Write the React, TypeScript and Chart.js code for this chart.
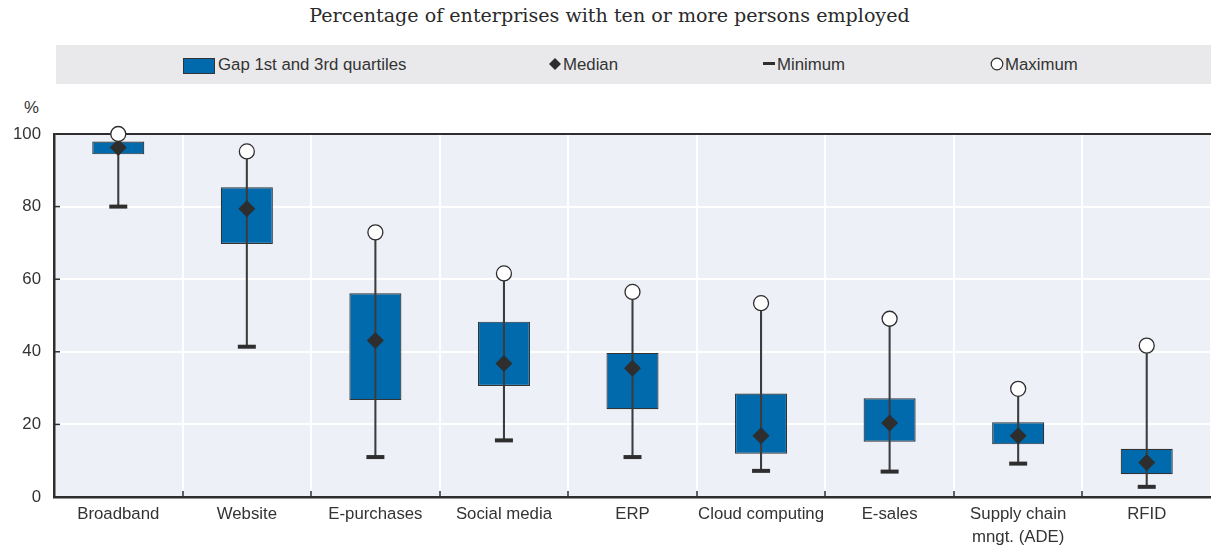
import React, { useEffect, useRef } from "react";
import { Chart, registerables } from "chart.js";

Chart.register(...registerables);

const categories: (string | string[])[] = [
  "Broadband",
  "Website",
  "E-purchases",
  "Social media",
  "ERP",
  "Cloud computing",
  "E-sales",
  ["Supply chain", "mngt. (ADE)"],
  "RFID",
];
const quartile1 = [94.4, 69.7, 26.7, 30.6, 24.2, 11.9, 15.2, 14.5, 6.3];
const quartile3 = [97.9, 85.3, 56.1, 48.3, 39.7, 28.5, 27.2, 20.6, 13.3];
const medians = [96.3, 79.4, 43.1, 36.8, 35.5, 16.9, 20.4, 16.9, 9.5];
const minimums = [80, 41.4, 11, 15.6, 11, 7.2, 7, 9.2, 2.8];
const maximums = [100, 95.2, 72.9, 61.6, 56.5, 53.4, 49.1, 29.8, 41.7];
const yTickValues = [0, 20, 40, 60, 80, 100];

const TITLE = "Percentage of enterprises with ten or more persons employed";
const SANS = '"Liberation Sans", Arial, sans-serif';
const FONT_SIZE = 16.8;
const BLUE = "#006AAD";
const DARK = "#2E2E2E";
const PLOT_BG = "#EDF0F7";

const bgPlugin = {
  id: "plotBg",
  beforeDraw(chart: any) {
    const { ctx, chartArea } = chart;
    ctx.save();
    ctx.fillStyle = PLOT_BG;
    ctx.fillRect(chartArea.left, chartArea.top, chartArea.right - chartArea.left, chartArea.bottom - chartArea.top);
    ctx.restore();
  },
  beforeDatasetsDraw(chart: any) {
    const { ctx, chartArea, scales } = chart;
    const x = scales.x;
    const y = scales.y;
    ctx.save();
    ctx.strokeStyle = DARK;
    ctx.lineWidth = 1.5;
    yTickValues.forEach((v) => {
      const py = y.getPixelForValue(v);
      ctx.beginPath();
      ctx.moveTo(chartArea.left, py);
      ctx.lineTo(chartArea.left + 6, py);
      ctx.stroke();
    });
    const n = categories.length;
    for (let i = 1; i < n; i++) {
      const px = Math.round((x.getPixelForValue(i - 1) + x.getPixelForValue(i)) / 2);
      ctx.beginPath();
      ctx.moveTo(px, chartArea.bottom);
      ctx.lineTo(px, chartArea.bottom - 6);
      ctx.stroke();
    }
    ctx.restore();
  },
};

export default function App() {
  const canvasRef = useRef<HTMLCanvasElement | null>(null);

  useEffect(() => {
    if (!canvasRef.current) return;
    const chart = new Chart(canvasRef.current, {
      type: "bar",
      data: {
        labels: categories as any,
        datasets: [
          {
            type: "line",
            label: "Maximum",
            data: maximums,
            showLine: false,
            pointStyle: "circle",
            pointRadius: 7.5,
            pointBorderWidth: 1.3,
            pointBackgroundColor: "#FFFFFF",
            pointBorderColor: DARK,
            clip: false,
            order: 1,
          } as any,
          {
            type: "line",
            label: "Median",
            data: medians,
            showLine: false,
            pointStyle: "rectRot",
            pointRadius: 8.5,
            pointBorderWidth: 0,
            pointBackgroundColor: DARK,
            pointBorderColor: DARK,
            clip: false,
            order: 2,
          } as any,
          {
            type: "line",
            label: "Minimum",
            data: minimums,
            showLine: false,
            pointStyle: "line",
            pointRadius: 9,
            pointBorderWidth: 4,
            pointBorderColor: DARK,
            order: 3,
          } as any,
          {
            type: "bar",
            label: "Whisker",
            data: minimums.map((m, i) => [m, maximums[i]]),
            backgroundColor: "#3C3C3C",
            barThickness: 1.4,
            grouped: false,
            borderWidth: 0,
            order: 4,
          } as any,
          {
            type: "bar",
            label: "Gap 1st and 3rd quartiles",
            data: quartile1.map((q, i) => [q, quartile3[i]]),
            backgroundColor: BLUE,
            borderColor: "#333333",
            borderWidth: 1.2,
            borderSkipped: false,
            barPercentage: 0.405,
            categoryPercentage: 1,
            grouped: false,
            order: 5,
          } as any,
        ],
      },
      options: {
        animation: false,
        responsive: false,
        maintainAspectRatio: false,
        devicePixelRatio: 1,
        layout: { autoPadding: false, padding: { top: 134, left: 0, right: 0, bottom: 0 } },
        plugins: {
          legend: { display: false },
          title: { display: false },
          tooltip: { enabled: false },
        },
        scales: {
          x: {
            type: "category",
            offset: true,
            grid: {
              offset: true,
              color: "#FFFFFF",
              lineWidth: 2,
              drawTicks: false,
            },
            border: { display: true, color: DARK, width: 2.5 },
            ticks: {
              color: "#333333",
              font: { family: SANS, size: FONT_SIZE, lineHeight: 1.38 },
              padding: 6,
              maxRotation: 0,
              autoSkip: false,
            },
            afterFit(scale: any) {
              scale.height = 52;
              scale.paddingLeft = 0;
              scale.paddingRight = 0;
            },
          },
          y: {
            min: 0,
            max: 100,
            grid: {
              color: (ctx: any) => (ctx.tick && ctx.tick.value === 100 ? DARK : "#FFFFFF"),
              lineWidth: 2,
              drawTicks: false,
            },
            border: { display: true, color: DARK, width: 2.5 },
            ticks: {
              stepSize: 20,
              color: "#333333",
              font: { family: SANS, size: FONT_SIZE },
              padding: 13,
            },
            afterFit(scale: any) {
              scale.width = 54;
              scale.paddingTop = 0;
              scale.paddingBottom = 0;
            },
          },
        },
      } as any,
      plugins: [bgPlugin],
    });
    return () => chart.destroy();
  }, []);

  const legendText: React.CSSProperties = {
    position: "absolute",
    top: 45,
    height: 39,
    lineHeight: "39px",
    fontFamily: SANS,
    fontSize: FONT_SIZE,
    color: "#333333",
    whiteSpace: "nowrap",
  };

  return (
    <div style={{ position: "fixed", left: 0, top: 0, width: 1211, height: 549, background: "#FFFFFF", overflow: "hidden" }}>
      <div
        style={{
          position: "absolute",
          left: 0,
          width: 1219,
          top: 4,
          textAlign: "center",
          fontFamily: '"DejaVu Serif", serif',
          fontSize: 19.1,
          color: "#2A2A2A",
          lineHeight: "24px",
        }}
      >
        {TITLE}
      </div>
      <div style={{ position: "absolute", left: 56, top: 45, width: 1155, height: 39, background: "#E9E9EB" }} />
      <div style={{ position: "absolute", left: 183, top: 58, width: 30, height: 14, background: BLUE, border: "1px solid #333" }} />
      <div style={{ ...legendText, left: 218 }}>Gap 1st and 3rd quartiles</div>
      <svg style={{ position: "absolute", left: 549, top: 58 }} width={12} height={12}>
        <polygon points="6,0 12,6 6,12 0,6" fill={DARK} />
      </svg>
      <div style={{ ...legendText, left: 563 }}>Median</div>
      <div style={{ position: "absolute", left: 763, top: 62, width: 12, height: 3, background: DARK }} />
      <div style={{ ...legendText, left: 777 }}>Minimum</div>
      <svg style={{ position: "absolute", left: 990, top: 57, overflow: "visible" }} width={14} height={14}>
        <circle cx={7} cy={7} r={5.8} fill="#FFFFFF" stroke={DARK} strokeWidth={1.2} />
      </svg>
      <div style={{ ...legendText, left: 1005 }}>Maximum</div>
      <div
        style={{
          position: "absolute",
          left: 24,
          top: 97,
          fontFamily: SANS,
          fontSize: FONT_SIZE,
          color: "#333333",
          lineHeight: "22px",
        }}
      >
        %
      </div>
      <canvas ref={canvasRef} width={1211} height={549} style={{ position: "absolute", left: 0, top: 0, width: 1211, height: 549 }} />
    </div>
  );
}
